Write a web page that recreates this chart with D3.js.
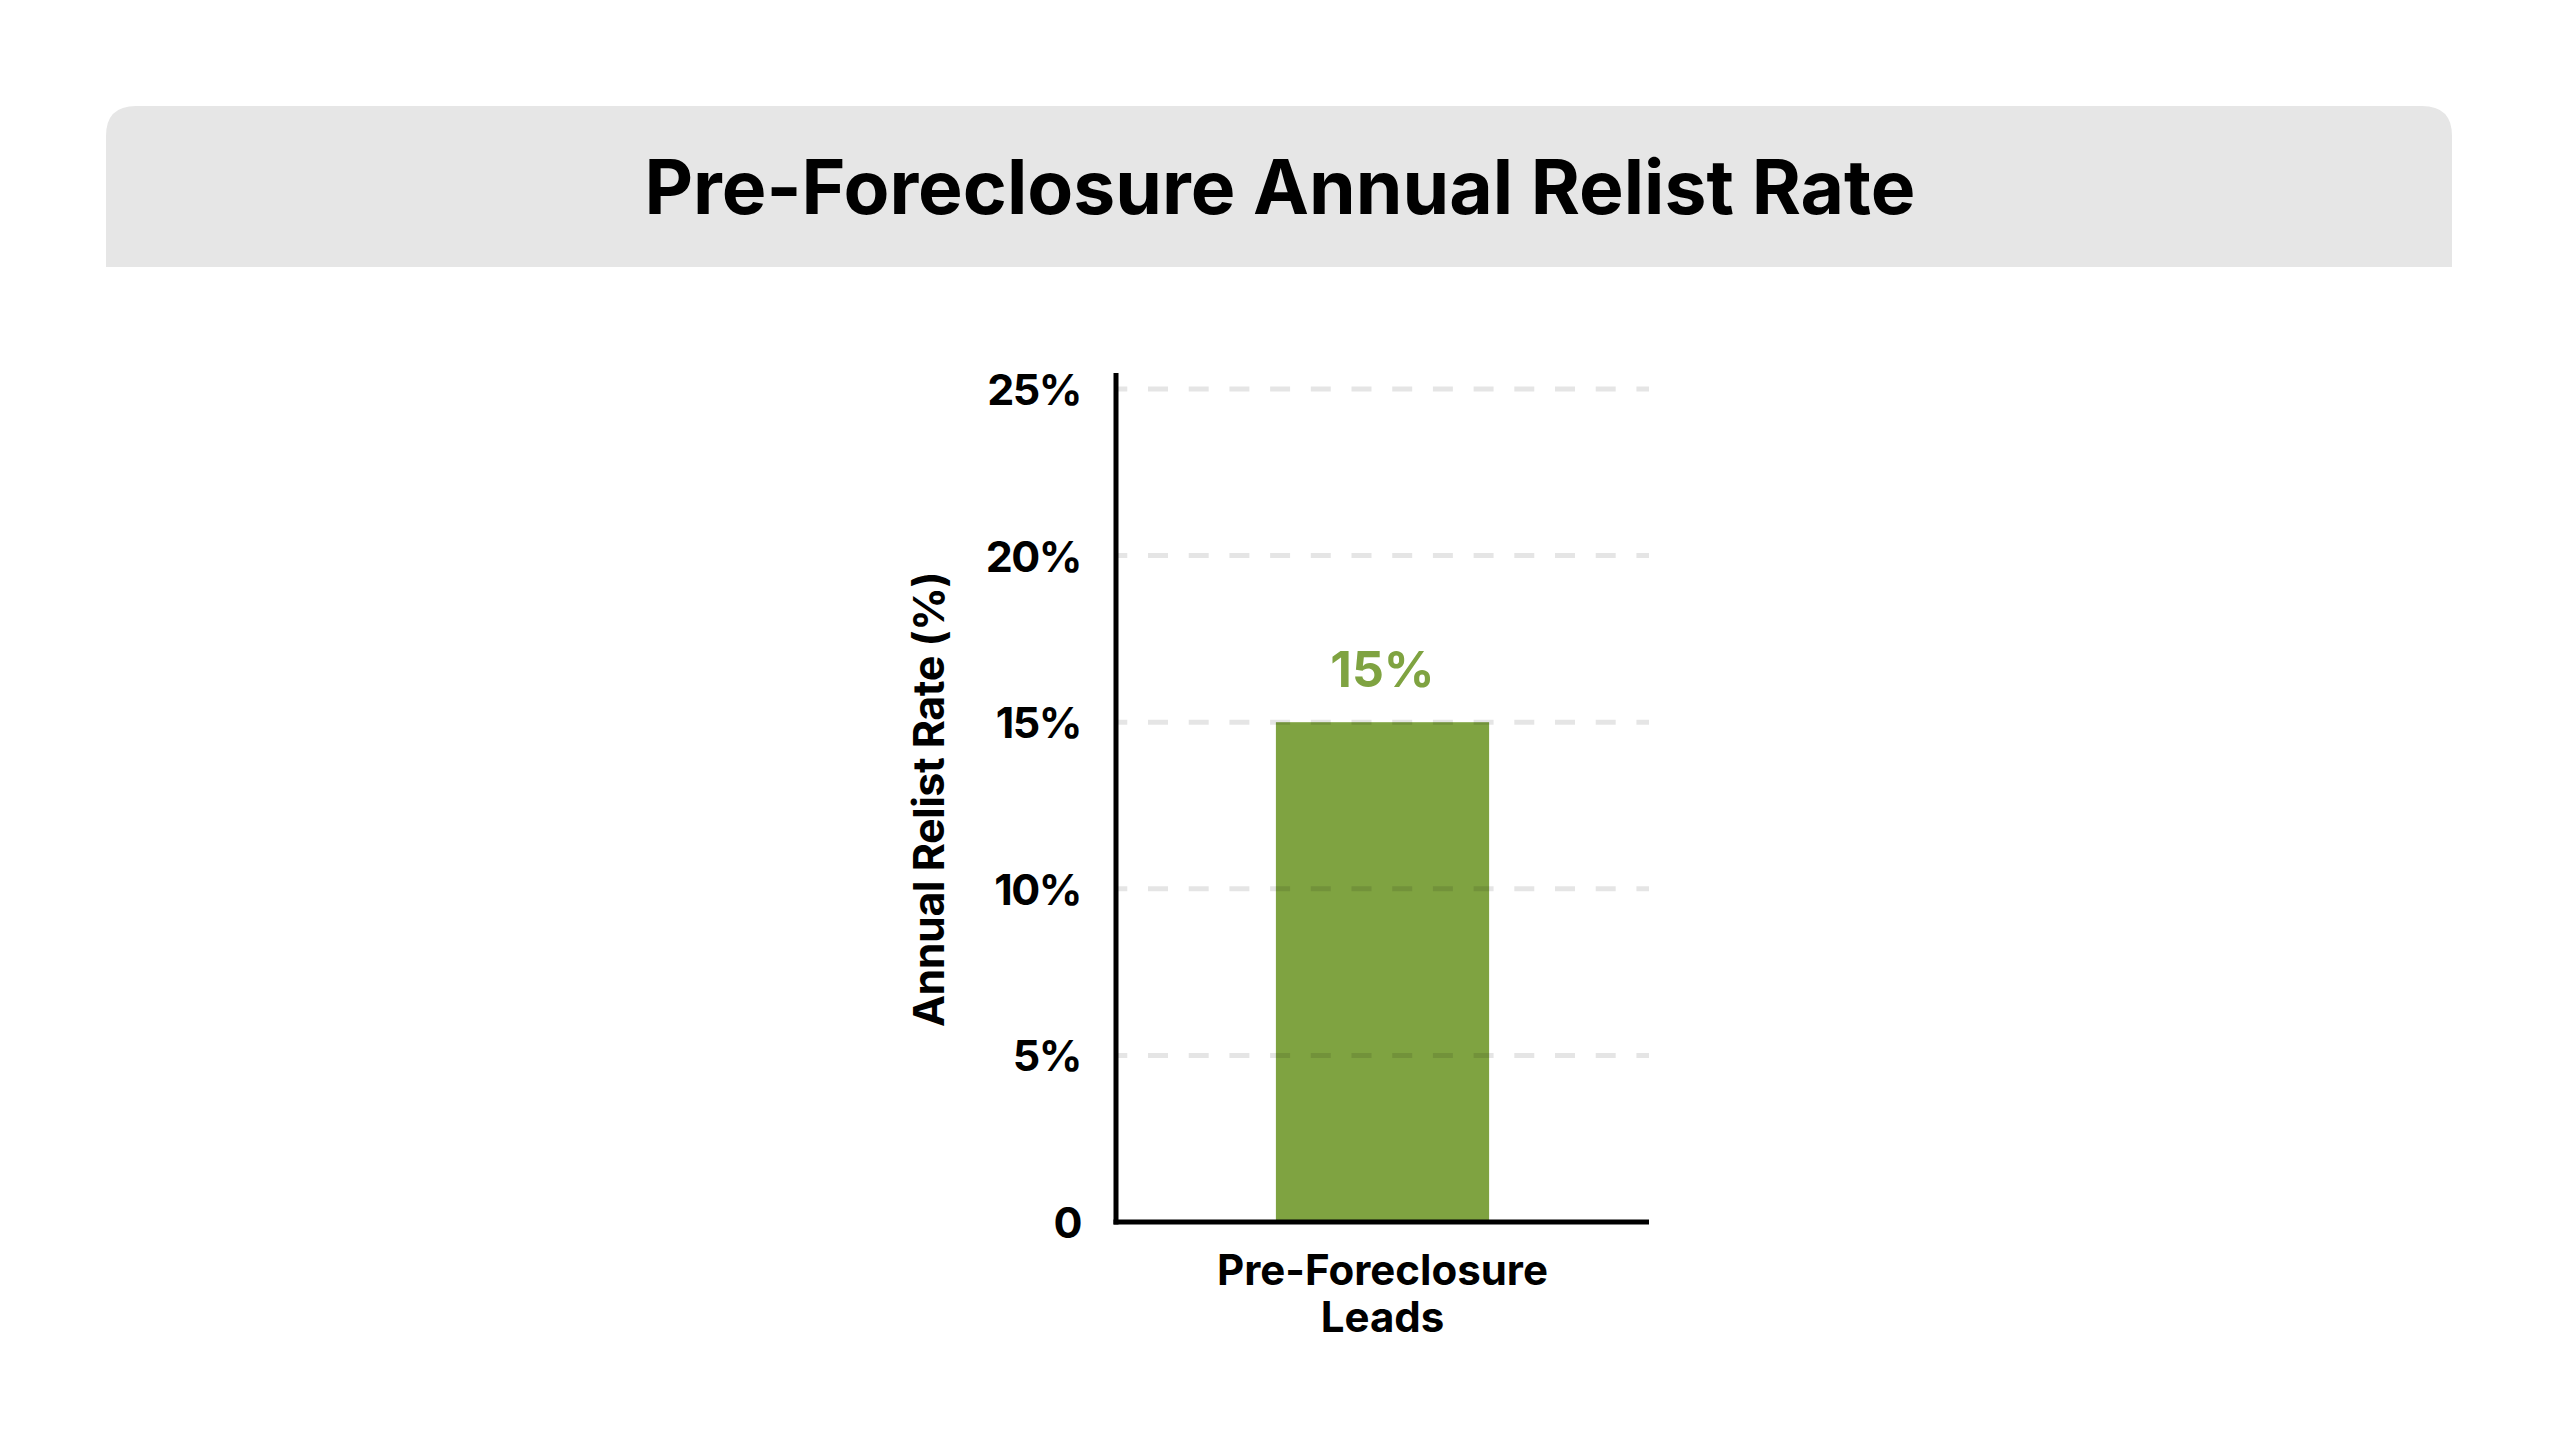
<!DOCTYPE html>
<html>
<head>
<meta charset="utf-8">
<script src="https://cdn.jsdelivr.net/npm/d3@7"></script>
<style>
  body { margin: 0; background: #fff; }
  svg { display: block; font-family: Inter, "Noto Sans", sans-serif; }
</style>
</head>
<body>
<div id="container"></div>
<script>
const width = 2560
const height = 1440

// data
const title = 'Pre-Foreclosure Annual Relist Rate'
const yTitle = 'Annual Relist Rate (%)'
const categories = ['Pre-Foreclosure Leads']
const values = [15]
const valueLabels = ['15%']
const yTicks = [0, 5, 10, 15, 20, 25]
const yTickLabels = ['0', '5%', '10%', '15%', '20%', '25%']

const green = '#7fa341'

const svg = d3.select('div#container').append('svg')
    .attr('width', width)
    .attr('height', height)
    .attr('viewBox', `0 0 ${width} ${height}`)

//-----------------------------HEADER-----------------------------//
const hx = 106, hy = 106, hw = 2452 - 106, hh = 161, r = 30
svg.append('path')
    .attr('d', `M${hx},${hy + hh} V${hy + r} Q${hx},${hy} ${hx + r},${hy} H${hx + hw - r} Q${hx + hw},${hy} ${hx + hw},${hy + r} V${hy + hh} Z`)
    .attr('fill', '#e6e6e6')

svg.append('text')
    .attr('x', width / 2)
    .attr('y', 214)
    .attr('text-anchor', 'middle')
    .style('font-size', '75px')
    .style('font-weight', 700)
    .attr('fill', '#000')
    .text(title)

//----------------------------SCALES----------------------------//
const plot = { left: 1116, right: 1649, top: 389, bottom: 1222 }

const xScale = d3.scaleBand()
    .domain(categories)
    .range([plot.left, plot.right])
    .paddingInner(0.6)
    .paddingOuter(0.3)

const yScale = d3.scaleLinear()
    .domain([0, 25])
    .range([plot.bottom, plot.top])

//-----------------------------BARS-----------------------------//
svg.append('g')
    .selectAll('rect')
    .data(values)
    .join('rect')
    .attr('x', (d, i) => xScale(categories[i]))
    .attr('y', d => yScale(d))
    .attr('width', xScale.bandwidth())
    .attr('height', d => yScale(0) - yScale(d))
    .attr('fill', green)

svg.append('g')
    .selectAll('text')
    .data(values)
    .join('text')
    .attr('x', (d, i) => xScale(categories[i]) + xScale.bandwidth() / 2)
    .attr('y', d => yScale(d) - 35)
    .attr('text-anchor', 'middle')
    .attr('fill', green)
    .style('font-size', '50px')
    .style('font-weight', 700)
    .text((d, i) => valueLabels[i])

//---------------------------GRIDLINES---------------------------//
svg.append('g')
    .selectAll('line')
    .data(yTicks.filter(t => t > 0))
    .join('line')
    .attr('x1', plot.left)
    .attr('x2', plot.right)
    .attr('y1', d => yScale(d))
    .attr('y2', d => yScale(d))
    .attr('stroke', 'rgba(0,0,0,0.1)')
    .attr('stroke-width', 5)
    .attr('stroke-dasharray', '20,20.7')
    .attr('stroke-dashoffset', 8.7)

//-----------------------------AXES-----------------------------//
const yaxis = d3.axisLeft(yScale)
    .tickValues(yTicks)
    .tickFormat((d, i) => yTickLabels[i])
    .tickSize(0)
    .tickPadding(35)

const gy = svg.append('g')
    .attr('transform', `translate(${plot.left},0)`)
    .call(yaxis)
gy.select('.domain').remove()
gy.selectAll('text')
    .attr('fill', '#000')
    .attr('dy', '0.36em')
    .style('font-family', 'Inter, sans-serif')
    .style('font-size', '43px')
    .style('letter-spacing', '-1.5px')
    .style('font-weight', 700)

svg.append('line')
    .attr('x1', plot.left)
    .attr('x2', plot.left)
    .attr('y1', yScale(25) - 16)
    .attr('y2', yScale(0) + 2.5)
    .attr('stroke', '#000')
    .attr('stroke-width', 5)

svg.append('line')
    .attr('x1', plot.left - 2.5)
    .attr('x2', plot.right)
    .attr('y1', yScale(0))
    .attr('y2', yScale(0))
    .attr('stroke', '#000')
    .attr('stroke-width', 5)

const xaxis = d3.axisBottom(xScale)
    .tickSize(0)
    .tickPadding(0)

const gx = svg.append('g')
    .attr('transform', `translate(0,${plot.bottom})`)
    .call(xaxis)
gx.select('.domain').remove()
gx.selectAll('text')
    .attr('fill', '#000')
    .attr('dy', null)
    .attr('y', 63)
    .style('font-family', 'Inter, sans-serif')
    .style('font-size', '42px')
    .style('font-weight', 700)
    .each(function (d) {
        const words = d.split(' ')
        const lines = [words.slice(0, -1).join(' '), words[words.length - 1]]
        const t = d3.select(this).text(null)
        lines.forEach((ln, i) => {
            t.append('tspan')
                .attr('x', 0)
                .attr('dy', i === 0 ? 0 : 47)
                .text(ln)
        })
    })

svg.append('text')
    .attr('transform', `translate(944,${(plot.top + plot.bottom) / 2 - 6}) rotate(-90)`)
    .attr('text-anchor', 'middle')
    .style('font-size', '43px')
    .style('letter-spacing', '-0.5px')
    .style('font-weight', 700)
    .attr('fill', '#000')
    .text(yTitle)
</script>
</body>
</html>
